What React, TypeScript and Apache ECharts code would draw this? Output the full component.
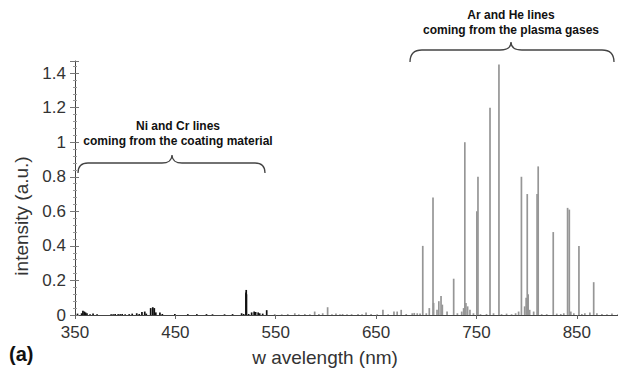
import React, { useEffect, useRef } from "react";
import * as echarts from "echarts";

// Coating (Ni / Cr) emission lines, drawn in black
const coatingWavelengths = [352.5, 356.6, 357.9, 359.3, 360.5, 361.9, 365.0, 368.0, 372.0, 386.0, 388.0, 390.0, 393.0, 395.0, 397.0, 400.0, 404.0, 407.0, 411.5, 414.0, 416.7, 419.5, 421.0, 425.4, 427.5, 429.0, 430.5, 434.6, 437.0, 449.5, 462.4, 471.4, 481.0, 487.0, 499.0, 507.0, 516.0, 518.0, 520.4, 520.6, 520.8, 523.0, 526.0, 528.5, 530.0, 532.5, 534.0, 537.0, 541.0];
const coatingIntensities = [0.008, 0.01, 0.025, 0.02, 0.015, 0.01, 0.005, 0.008, 0.004, 0.005, 0.005, 0.006, 0.005, 0.005, 0.006, 0.004, 0.005, 0.008, 0.01, 0.006, 0.018, 0.02, 0.008, 0.04, 0.045, 0.04, 0.015, 0.015, 0.006, 0.006, 0.005, 0.005, 0.005, 0.004, 0.004, 0.005, 0.01, 0.006, 0.13, 0.145, 0.12, 0.006, 0.015, 0.02, 0.018, 0.015, 0.01, 0.008, 0.028];

// Plasma gas (Ar / He) emission lines, drawn in grey
const plasmaWavelengths = [549, 556, 562, 569, 573, 579, 584, 588.8, 593, 596.8, 601.7, 606, 610, 614, 616.6, 621, 625.6, 632, 636, 640, 645, 651, 656.8, 662, 667.8, 671, 675, 680, 686, 688, 691, 693.8, 696.5, 700, 703.0, 706.7, 707.3, 710.7, 712.5, 714.7, 716, 720.7, 727.3, 731, 735.3, 737.2, 738.4, 739.5, 741.2, 743.5, 747, 750.4, 751.5, 754, 760, 763.5, 767, 772.4, 775, 780, 785, 789, 792, 794.8, 798, 799.5, 800.6, 801.5, 803, 807, 810.4, 811.5, 815, 820, 826.5, 830, 834, 837, 840.8, 842.5, 844, 847, 852.1, 855, 858, 863, 866.8, 870, 875, 880, 885, 891];
const plasmaIntensities = [0.005, 0.004, 0.006, 0.01, 0.004, 0.006, 0.004, 0.02, 0.006, 0.01, 0.045, 0.005, 0.008, 0.004, 0.006, 0.004, 0.005, 0.006, 0.004, 0.015, 0.006, 0.004, 0.03, 0.005, 0.02, 0.02, 0.03, 0.006, 0.01, 0.012, 0.01, 0.008, 0.40, 0.01, 0.04, 0.68, 0.07, 0.03, 0.08, 0.11, 0.06, 0.02, 0.21, 0.01, 0.02, 0.04, 1.00, 0.07, 0.05, 0.03, 0.01, 0.60, 0.80, 0.005, 0.006, 1.20, 0.01, 1.45, 0.005, 0.008, 0.005, 0.01, 0.02, 0.80, 0.05, 0.10, 0.70, 0.12, 0.03, 0.02, 0.70, 0.86, 0.005, 0.005, 0.48, 0.008, 0.006, 0.01, 0.62, 0.61, 0.02, 0.01, 0.40, 0.006, 0.01, 0.015, 0.19, 0.01, 0.006, 0.005, 0.008, 0.005];

// Axis settings
const xMin = 350;
const xMax = 897;
const xStep = 100;
const yMin = 0;
const yMax = 1.47;
const yStep = 0.2;

const FONT = '"Liberation Sans", Arial, Helvetica, sans-serif';

const braceNi = "M78,173 C78,166 81,163 88,163 L162,163 C168,163 172,160 172,155 C172,160 176,163 182,163 L255,163 C262,163 265,166 265,173";
const braceAr = "M410,62 C410,54 414,50 422,50 L500,50 C507,50 511,47 511,42 C511,47 515,50 522,50 L602,50 C610,50 614,54 614,62";

let registered = false;
function registerShapes() {
  if (registered) return;
  echarts.graphic.registerShape("braceNi", echarts.graphic.extendPath(braceNi, {}));
  echarts.graphic.registerShape("braceAr", echarts.graphic.extendPath(braceAr, {}));
  registered = true;
}

export default function App() {
  const ref = useRef<HTMLDivElement>(null);

  useEffect(() => {
    if (!ref.current) return;
    registerShapes();
    const chart = echarts.init(ref.current, undefined, { renderer: "svg" });

    const coatingData = coatingWavelengths.map((w, i) => [w, coatingIntensities[i]]);
    const plasmaData = plasmaWavelengths.map((w, i) => [w, plasmaIntensities[i]]);

    const axisTextColor = "#333";

    chart.setOption({
      animation: false,
      backgroundColor: "#fff",
      grid: { left: 75, top: 61, width: 549, height: 254, containLabel: false },
      xAxis: {
        type: "value",
        min: xMin,
        max: xMax,
        interval: xStep,
        name: "w avelength (nm)",
        nameLocation: "middle",
        nameGap: 33,
        nameTextStyle: { fontFamily: FONT, fontSize: 19, color: axisTextColor, padding: [0, 49, 0, 0] },
        axisLine: { show: true, lineStyle: { color: "#444", width: 1 } },
        axisTick: { show: true, length: 4, lineStyle: { color: "#666" } },
        axisLabel: { fontFamily: FONT, fontSize: 17, color: axisTextColor, margin: 9, showMaxLabel: false },
        splitLine: { show: false },
      },
      yAxis: [
        {
          type: "value",
          min: yMin,
          max: yMax,
          interval: yStep,
          name: "intensity (a.u.)",
          nameLocation: "middle",
          nameGap: 42,
          nameTextStyle: { fontFamily: FONT, fontSize: 19, color: axisTextColor, padding: [0, 56, 0, 0] },
          axisLine: { show: true, lineStyle: { color: "#444", width: 1 } },
          axisTick: { show: true, length: 5, lineStyle: { color: "#777" } },
          minorTick: { show: true, splitNumber: 5, length: 2, lineStyle: { color: "#999" } },
          axisLabel: { fontFamily: FONT, fontSize: 17, color: axisTextColor, margin: 9, showMaxLabel: false },
          splitLine: { show: false },
        },
        {
          type: "value",
          position: "right",
          min: yMin,
          max: yMax,
          interval: yStep,
          axisLine: { show: true, lineStyle: { color: "#888", width: 1 } },
          axisTick: { show: false },
          axisLabel: { show: false },
          splitLine: { show: false },
        },
        {
          type: "value",
          position: "left",
          min: yMin,
          max: yMax,
          interval: yStep,
          axisLine: { show: false },
          axisTick: { show: true, inside: true, length: 4, lineStyle: { color: "#777" } },
          minorTick: { show: true, splitNumber: 5, length: 2, lineStyle: { color: "#999" } },
          axisLabel: { show: false },
          splitLine: { show: false },
        },
      ],
      series: [
        {
          name: "plasma gases",
          type: "bar",
          yAxisIndex: 0,
          data: plasmaData,
          barWidth: 1.7,
          barGap: "-100%",
          itemStyle: { color: "#969696" },
          silent: true,
        },
        {
          name: "coating material",
          type: "bar",
          yAxisIndex: 0,
          data: coatingData,
          barWidth: 1.7,
          barGap: "-100%",
          itemStyle: { color: "#111" },
          silent: true,
        },
      ],
      graphic: [
        {
          type: "braceNi",
          x: 0,
          y: 0,
          style: { fill: "none", stroke: "#444", lineWidth: 1.3 },
          silent: true,
        },
        {
          type: "braceAr",
          x: 0,
          y: 0,
          style: { fill: "none", stroke: "#444", lineWidth: 1.3 },
          silent: true,
        },
        {
          type: "text",
          x: 178,
          y: 133.5,
          style: {
            text: "Ni and Cr lines\ncoming from the coating material",
            font: `bold 12px ${FONT}`,
            fill: "#111",
            align: "center",
            textAlign: "center",
            verticalAlign: "middle",
            textVerticalAlign: "middle",
            lineHeight: 15,
          },
        },
        {
          type: "text",
          x: 511,
          y: 22,
          style: {
            text: "Ar and He lines\ncoming from the plasma gases",
            font: `bold 12px ${FONT}`,
            fill: "#111",
            align: "center",
            textAlign: "center",
            verticalAlign: "middle",
            textVerticalAlign: "middle",
            lineHeight: 15,
          },
        },
        {
          type: "text",
          x: 9,
          y: 354,
          style: {
            text: "(a)",
            font: `bold 20px ${FONT}`,
            fill: "#111",
            align: "left",
            textAlign: "left",
            verticalAlign: "middle",
            textVerticalAlign: "middle",
          },
        },
      ],
    });

    return () => {
      chart.dispose();
    };
  }, []);

  return <div ref={ref} style={{ width: 626, height: 378, margin: -8 }} />;
}
